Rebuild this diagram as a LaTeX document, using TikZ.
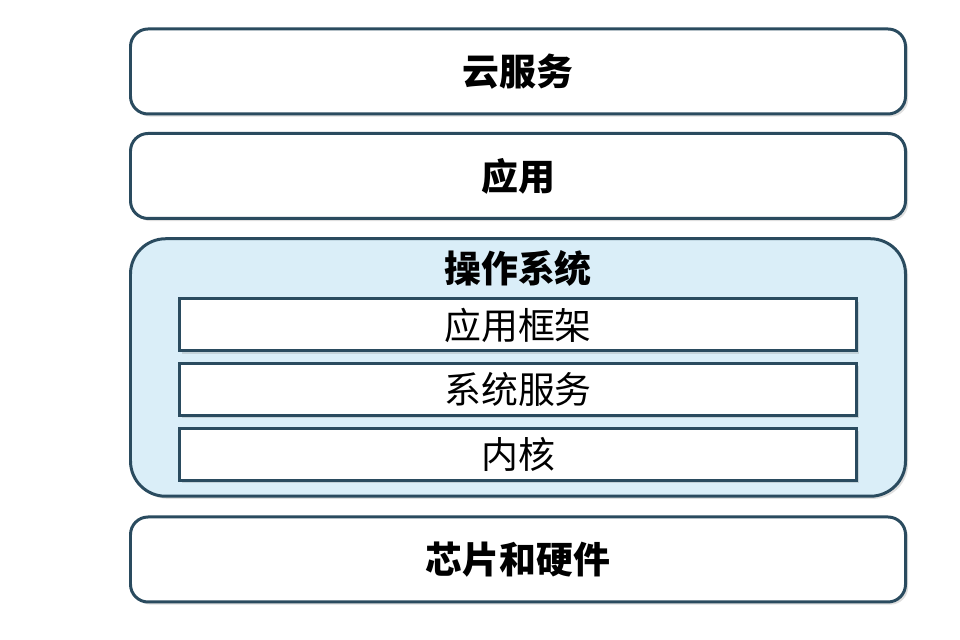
\documentclass[tikz,border=0pt]{standalone}
\usepackage{fontspec}
\setmainfont{Noto Sans CJK SC}
\usepackage{tikz}
\usetikzlibrary{shadows}
\definecolor{edge}{HTML}{2A4B5F}
\definecolor{osblue}{HTML}{DAEEF8}

\begin{document}
\begin{tikzpicture}[
  layer/.style={rectangle, rounded corners=10pt, draw=edge, fill=white, line width=1.7pt,
    minimum width=15.5cm, minimum height=1.7cm, font=\fontsize{21}{25}\selectfont\bfseries,
    drop shadow={shadow xshift=1.5pt, shadow yshift=-1.5pt, opacity=0.25}},
  oslayer/.style={layer, rounded corners=20pt, fill=osblue, minimum height=5.15cm},
  sublayer/.style={rectangle, draw=edge, fill=white, line width=1.7pt,
    minimum width=13.55cm, minimum height=1.04cm, font=\fontsize{21}{25}\selectfont,
    drop shadow={shadow xshift=1.5pt, shadow yshift=-1.5pt, opacity=0.25}},
]
\useasboundingbox (0,0) rectangle (19.2,12.8);

% Nodes
\node[layer] (cloud) at (10.36,11.37) {云服务};
\node[layer] (app) at (10.36,9.28) {应用};
\node[oslayer] (os) at (10.36,5.45) {};
\node[font=\fontsize{21}{25}\selectfont\bfseries] (ostitle) at (10.36,7.44) {操作系统};
\node[sublayer] (frame) at (10.36,6.30) {应用框架};
\node[sublayer] (service) at (10.36,5.01) {系统服务};
\node[sublayer] (kernel) at (10.36,3.71) {内核};
\node[layer] (hw) at (10.36,1.61) {芯片和硬件};

\end{tikzpicture}
\end{document}
